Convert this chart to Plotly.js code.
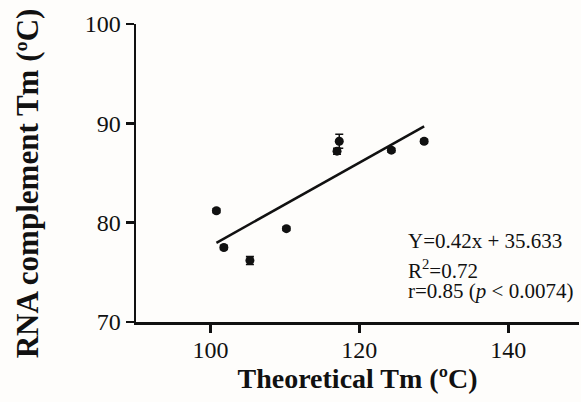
<!DOCTYPE html>
<html>
<head>
<meta charset="utf-8">
<script src="https://cdn.plot.ly/plotly-3.0.1.min.js"></script>
<style>html,body{margin:0;padding:0;background:#fefdfb;}#chart{width:581px;height:402px;}</style>
</head>
<body>
<div id="chart"></div>
<script>
// Data
const theoreticalTm = [100.8, 101.8, 105.3, 110.2, 117.0, 117.3, 124.3, 128.7];
const rnaComplementTm = [81.2, 77.5, 76.2, 79.4, 87.2, 88.2, 87.3, 88.2];
const errorValues = [0.2, 0.2, 0.4, 0.2, 0.3, 0.7, 0.2, 0.2];
const slope = 0.42;
const intercept = 35.633;
const xTicks = [100, 120, 140];
const yTicks = [70, 80, 90, 100];
const xTitle = "Theoretical Tm (ºC)";
const yTitle = "RNA complement Tm (ºC)";
const statLines = ["Y=0.42x + 35.633", "R<sup>2</sup>=0.72", "r=0.85 (<i>p</i> < 0.0074)"];
const statY = [78.2, 75.25, 73.1];

const xMin = Math.min(...theoreticalTm), xMax = Math.max(...theoreticalTm);
const fitX = [xMin, xMax];
const fitY = fitX.map(v => slope * v + intercept);

const font = "Liberation Serif, Times New Roman, serif";

const traces = [
  {
    x: fitX, y: fitY, type: "scatter", mode: "lines",
    line: {color: "#111", width: 2.5}, hoverinfo: "skip", showlegend: false
  },
  {
    x: theoreticalTm, y: rnaComplementTm, type: "scatter", mode: "markers",
    marker: {color: "#111", size: 9},
    error_y: {type: "data", array: errorValues, visible: true, color: "#111", thickness: 1.5, width: 4},
    showlegend: false
  }
];

const annotations = statLines.map((t, i) => ({
  x: 126.2, y: statY[i], xref: "x", yref: "y", text: t, showarrow: false,
  xanchor: "left", yanchor: "middle", font: {size: 21, family: font, color: "#111"}
}));
annotations.push({
  x: -0.244, y: 0.465, xref: "paper", yref: "paper", text: "<b>" + yTitle + "</b>",
  showarrow: false, textangle: -90, xanchor: "center", yanchor: "middle",
  font: {size: 31, family: font, color: "#111"}
});

const layout = {
  width: 581, height: 402,
  margin: {l: 136, r: 2, t: 24, b: 80},
  paper_bgcolor: "#fefdfb", plot_bgcolor: "#fefdfb",
  font: {family: font, color: "#111", size: 24},
  xaxis: {
    range: [90, 149.5], tickvals: xTicks, ticks: "outside", ticklen: 8, tickwidth: 2.5,
    tickcolor: "#111", showline: true, linecolor: "#111", linewidth: 2.5,
    showgrid: false, zeroline: false, tickfont: {size: 24, family: font},
    ticklabelstandoff: -3,
    title: {text: "<b>" + xTitle + "</b>", font: {size: 28, family: font}, standoff: 4}
  },
  yaxis: {
    range: [70, 100], tickvals: yTicks, ticks: "outside", ticklen: 8, tickwidth: 2.5,
    tickcolor: "#111", showline: true, linecolor: "#111", linewidth: 2.5,
    showgrid: false, zeroline: false, tickfont: {size: 24, family: font}
  },
  annotations: annotations
};

Plotly.newPlot("chart", traces, layout, {displayModeBar: false, staticPlot: true});
</script>
</body>
</html>
